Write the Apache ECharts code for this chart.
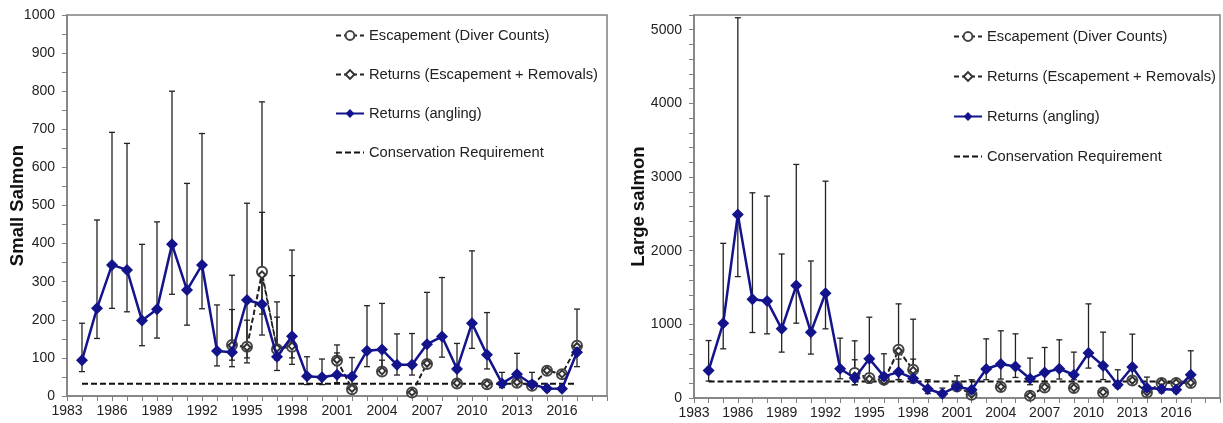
<!DOCTYPE html>
<html>
<head>
<meta charset="utf-8">
<script src="https://cdn.jsdelivr.net/npm/echarts@6/dist/echarts.min.js"></script>
<style>
  html, body { margin: 0; padding: 0; background: #fff; }
  #chart { width: 1223px; height: 423px; }
</style>
</head>
<body>
<div id="chart"></div>
<script>
// ---- data ----
var years = [1984, 1985, 1986, 1987, 1988, 1989, 1990, 1991, 1992, 1993, 1994, 1995, 1996, 1997, 1998, 1999, 2000,
             2001, 2002, 2003, 2004, 2005, 2006, 2007, 2008, 2009, 2010, 2011, 2012, 2013, 2014, 2015, 2016, 2017];

// small salmon
var smallAngling = [94, 230, 344, 331, 198, 228, 398, 278, 344, 118, 115, 252, 241, 103, 157, 52, 49,
                    56, 51, 119, 122, 82, 82, 136, 156, 71, 191, 108, 33, 57, 31, 20, 19, 115];
var smallAnglingLow = [64, 151, 230, 221, 132, 152, 267, 186, 229, 79, 77, 87, 160, 67, 83, 30, 30,
                       35, 30, 77, 57, 55, 55, 90, 102, 32, 125, 71, 22, 30, 20, 12, 12, 77];
var smallAnglingHigh = [191, 462, 692, 663, 398, 457, 800, 558, 689, 239, 317, 506, 772, 247, 383, 103, 97,
                        113, 101, 237, 243, 163, 164, 272, 311, 138, 381, 219, 62, 112, 62, 28, 27, 228];
var smallEscapement = [null, null, null, null, null, null, null, null, null, null, 134, 129, 326, 123, 129, null, null,
                       93, 18, null, 64, null, 9, 84, null, 33, null, 31, null, 35, 27, 66, 57, 132];
var smallReturns = [null, null, null, null, null, null, null, null, null, null, 133, 128, 318, 126, 131, null, null,
                    95, 20, null, 66, null, 10, 86, null, 34, null, 32, null, 36, 28, 67, 58, 130];
var smallReturnsLow = [null, null, null, null, null, null, null, null, null, null, 94, 100, 215, 95, 100, null, null,
                       80, null, null, 56, null, null, null, null, null, null, null, null, null, null, null, null, null];
var smallReturnsHigh = [null, null, null, null, null, null, null, null, null, null, 227, 199, 482, 207, 316, null, null,
                        134, null, null, 94, null, null, null, null, null, null, null, null, null, null, null, null, null];
var smallConservation = 32;

// large salmon
var largeAngling = [374, 1016, 2493, 1341, 1318, 939, 1526, 894, 1423, 397, 271, 533, 293, 352, 266, 122, 58,
                    157, 112, 393, 461, 428, 261, 347, 397, 316, 610, 438, 180, 420, 135, 122, 112, 316];
var largeAnglingLow = [230, 668, 1648, 889, 871, 623, 1016, 596, 939, 261, 180, 203, 203, 248, 203, 60, 20,
                       99, 60, 248, 257, 279, 180, 225, 257, 248, 406, 250, 135, 248, 68, 70, 70, 234];
var largeAnglingHigh = [780, 2100, 5163, 2786, 2741, 1955, 3171, 1860, 2944, 813, 776, 1097, 600, 1278, 1070, 248, 135,
                        302, 248, 803, 912, 871, 542, 686, 790, 623, 1278, 894, 383, 867, 284, 180, 170, 641];
var largeEscapement = [null, null, null, null, null, null, null, null, null, null, 339, 271, 248, 654, 383, null, null,
                       157, 45, null, 149, null, 31, 144, null, 135, null, 76, null, 238, 76, 203, 203, 203];
var largeReturns = [null, null, null, null, null, null, null, null, null, null, 300, 260, 230, 640, 375, null, null,
                    160, 50, null, 152, null, 35, 148, null, 138, null, 80, null, 240, 80, 210, 208, 206];
var largeReturnsLow = [null, null, null, null, null, null, null, null, null, null, 180, null, null, 250, 250, null, null,
                       null, null, null, null, null, null, null, null, null, null, null, null, null, null, null, null, null];
var largeReturnsHigh = [null, null, null, null, null, null, null, null, null, null, 519, null, null, 528, 528, null, null,
                        null, null, null, null, null, null, null, null, null, null, null, null, null, null, null, null, null];
var largeConservation = 225;

var names = ['Escapement (Diver Counts)', 'Returns (Escapement + Removals)', 'Returns (angling)', 'Conservation Requirement'];

var FONT = 'Liberation Sans, Arial, sans-serif';
var NAVY = '#13138c';

function pairs(vals) {
  return years.map(function (y, i) { return [y, vals[i] == null ? '-' : vals[i]]; });
}
function bars(lo, hi) {
  var out = [];
  years.forEach(function (y, i) {
    if (lo[i] != null && hi[i] != null) out.push([y, lo[i], hi[i]]);
  });
  return out;
}

function errRender(params, api) {
  var x = api.value(0);
  var p1 = api.coord([x, api.value(1)]);
  var p2 = api.coord([x, api.value(2)]);
  var w = 3;
  var st = { stroke: '#222', lineWidth: 1.3 };
  return {
    type: 'group',
    children: [
      { type: 'line', shape: { x1: p1[0], y1: p1[1], x2: p2[0], y2: p2[1] }, style: st },
      { type: 'line', shape: { x1: p1[0] - w, y1: p1[1], x2: p1[0] + w, y2: p1[1] }, style: st },
      { type: 'line', shape: { x1: p2[0] - w, y1: p2[1], x2: p2[0] + w, y2: p2[1] }, style: st }
    ]
  };
}

function xAxis(gi) {
  return {
    type: 'value', gridIndex: gi, min: 1983, max: 2019, interval: 1,
    axisLine: { lineStyle: { color: '#808080', width: 1.5 } },
    axisTick: { length: 5, lineStyle: { color: '#808080' } },
    splitLine: { show: false },
    axisLabel: {
      margin: 8, color: '#222', fontSize: 14, fontFamily: FONT,
      formatter: function (v) { return ((v - 1983) % 3 === 0 && v < 2019) ? String(v) : ''; }
    }
  };
}

function yAxis(gi, max, step, labelStep, name, gap) {
  return {
    type: 'value', gridIndex: gi, min: 0, max: max, interval: step,
    name: name, nameLocation: 'middle', nameGap: gap, nameRotate: 90, nameMoveOverlap: false,
    nameTextStyle: { fontSize: 18.5, fontWeight: 'bold', color: '#111', fontFamily: FONT },
    axisLine: { show: true, lineStyle: { color: '#808080', width: 1.5 } },
    axisTick: { show: true, length: 5, lineStyle: { color: '#808080' } },
    splitLine: { show: false },
    axisLabel: {
      margin: 12, color: '#222', fontSize: 14, fontFamily: FONT,
      formatter: function (v) { return (v % labelStep === 0 && v <= 5000) ? String(v) : ''; }
    }
  };
}

function panelSeries(gi, ang, angLo, angHi, esc, ret, retLo, retHi, cons) {
  return [
    { type: 'custom', xAxisIndex: gi, yAxisIndex: gi, renderItem: errRender, data: bars(angLo, angHi),
      encode: { x: 0, y: [1, 2] }, z: 1, silent: true },
    { type: 'custom', xAxisIndex: gi, yAxisIndex: gi, renderItem: errRender, data: bars(retLo, retHi),
      encode: { x: 0, y: [1, 2] }, z: 1, silent: true },
    { name: names[3], type: 'line', xAxisIndex: gi, yAxisIndex: gi,
      data: [[years[0], cons], [years[years.length - 1], cons]],
      showSymbol: false, symbol: 'none', lineStyle: { color: '#111', width: 2, type: [6, 3] },
      itemStyle: { color: '#111' }, z: 2 },
    { name: names[0], type: 'line', xAxisIndex: gi, yAxisIndex: gi, data: pairs(esc),
      connectNulls: false, symbol: 'emptyCircle', symbolSize: 10,
      lineStyle: { color: '#222', width: 1.6, type: [5, 3] },
      itemStyle: { color: '#444', borderWidth: 1 }, z: 3 },
    { name: names[1], type: 'line', xAxisIndex: gi, yAxisIndex: gi, data: pairs(ret),
      connectNulls: false, symbol: 'emptyDiamond', symbolSize: 7,
      lineStyle: { color: '#222', width: 1.6, type: [5, 3] },
      itemStyle: { color: '#333', borderWidth: 1 }, z: 3 },
    { name: names[2], type: 'line', xAxisIndex: gi, yAxisIndex: gi, data: pairs(ang),
      symbol: 'diamond', symbolSize: 12,
      lineStyle: { color: NAVY, width: 2.5 },
      itemStyle: { color: NAVY }, z: 4 }
  ];
}

function legend(left, top, gap) {
  return {
    data: [
      { name: names[0] },
      { name: names[1], itemStyle: { borderWidth: 1 } },
      { name: names[2] },
      { name: names[3], itemStyle: { opacity: 0 } }
    ],
    orient: 'vertical', left: left, top: top, itemGap: gap,
    itemWidth: 28, itemHeight: 11, selectedMode: false,
    textStyle: { fontSize: 14.7, color: '#222', fontFamily: FONT }
  };
}

var chart = echarts.init(document.getElementById('chart'), null, { renderer: 'canvas' });
chart.setOption({
  animation: false,
  backgroundColor: '#fff',
  grid: [
    { left: 67, top: 15, width: 540, height: 381, show: true, borderColor: '#808080', borderWidth: 1.5 },
    { left: 694, top: 15, width: 553, height: 383, show: true, borderColor: '#808080', borderWidth: 1.5 }
  ],
  legend: [legend(330, 23, 24), legend(948, 24, 25)],
  xAxis: [xAxis(0), xAxis(1)],
  yAxis: [
    yAxis(0, 1000, 50, 100, 'Small Salmon', 40),
    yAxis(1, 5200, 200, 1000, 'Large salmon', 46)
  ],
  series: panelSeries(0, smallAngling, smallAnglingLow, smallAnglingHigh, smallEscapement, smallReturns,
                      smallReturnsLow, smallReturnsHigh, smallConservation)
    .concat(panelSeries(1, largeAngling, largeAnglingLow, largeAnglingHigh, largeEscapement, largeReturns,
                        largeReturnsLow, largeReturnsHigh, largeConservation))
});
</script>
</body>
</html>
